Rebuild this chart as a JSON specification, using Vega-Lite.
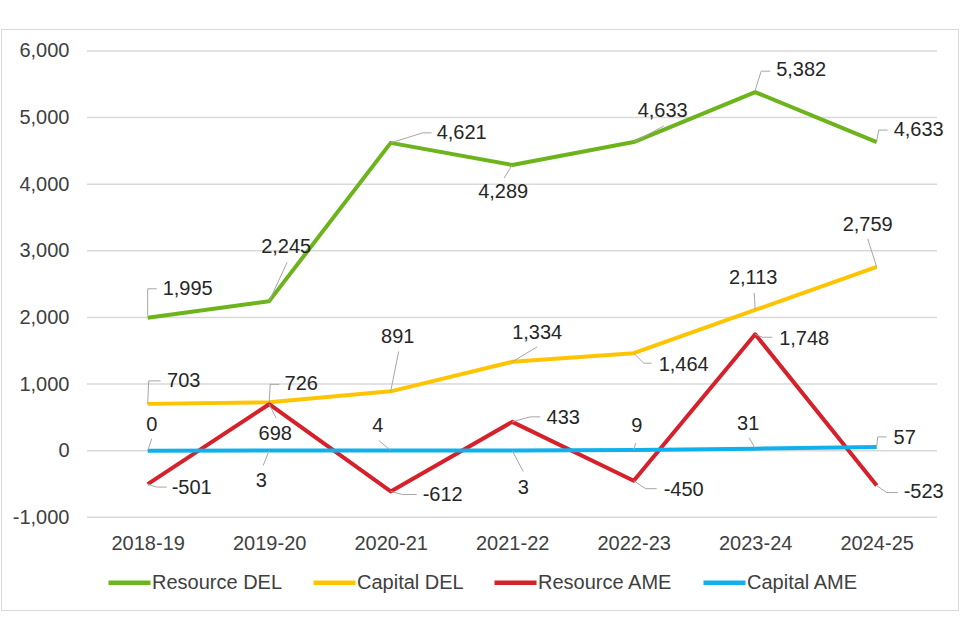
{
  "$schema": "https://vega.github.io/schema/vega-lite/v6.json",
  "width": 957,
  "height": 581,
  "autosize": {"type": "none"},
  "padding": {"left": 1, "top": 29, "right": 2, "bottom": 30},
  "background": "white",
  "config": {
    "locale": {"number": {"decimal": ".", "thousands": ",", "grouping": [3], "currency": ["$", ""], "minus": "-"}},
    "view": {"stroke": "#d9d9d9", "strokeWidth": 1, "fill": "white"},
    "font": "Liberation Sans",
    "text": {"font": "Liberation Sans", "fontSize": 20, "color": "#262626", "align": "center", "baseline": "middle"},
    "rule": {"color": "#a6a6a6", "strokeWidth": 1},
    "axisX": {"offset": -93, "domain": false, "ticks": false, "tickSize": 0, "labelPadding": 16, "labelFontSize": 20, "labelFont": "Liberation Sans", "labelColor": "#404040", "labelAngle": 0, "grid": false, "title": null},
    "axisY": {"offset": -86, "domain": false, "ticks": false, "tickSize": 0, "labelPadding": 18, "labelFontSize": 20, "labelFont": "Liberation Sans", "labelColor": "#404040", "grid": false, "title": null}
  },
  "data": {"values": [
    {"year": "2018-19", "series": "Resource DEL", "value": 1995},
    {"year": "2019-20", "series": "Resource DEL", "value": 2245},
    {"year": "2020-21", "series": "Resource DEL", "value": 4621},
    {"year": "2021-22", "series": "Resource DEL", "value": 4289},
    {"year": "2022-23", "series": "Resource DEL", "value": 4633},
    {"year": "2023-24", "series": "Resource DEL", "value": 5382},
    {"year": "2024-25", "series": "Resource DEL", "value": 4633},
    {"year": "2018-19", "series": "Capital DEL", "value": 703},
    {"year": "2019-20", "series": "Capital DEL", "value": 726},
    {"year": "2020-21", "series": "Capital DEL", "value": 891},
    {"year": "2021-22", "series": "Capital DEL", "value": 1334},
    {"year": "2022-23", "series": "Capital DEL", "value": 1464},
    {"year": "2023-24", "series": "Capital DEL", "value": 2113},
    {"year": "2024-25", "series": "Capital DEL", "value": 2759},
    {"year": "2018-19", "series": "Resource AME", "value": -501},
    {"year": "2019-20", "series": "Resource AME", "value": 698},
    {"year": "2020-21", "series": "Resource AME", "value": -612},
    {"year": "2021-22", "series": "Resource AME", "value": 433},
    {"year": "2022-23", "series": "Resource AME", "value": -450},
    {"year": "2023-24", "series": "Resource AME", "value": 1748},
    {"year": "2024-25", "series": "Resource AME", "value": -523},
    {"year": "2018-19", "series": "Capital AME", "value": 0},
    {"year": "2019-20", "series": "Capital AME", "value": 3},
    {"year": "2020-21", "series": "Capital AME", "value": 4},
    {"year": "2021-22", "series": "Capital AME", "value": 3},
    {"year": "2022-23", "series": "Capital AME", "value": 9},
    {"year": "2023-24", "series": "Capital AME", "value": 31},
    {"year": "2024-25", "series": "Capital AME", "value": 57}
  ]},
  "encoding": {
    "x": {"field": "year", "type": "nominal", "scale": {"type": "point", "padding": 0, "domain": ["2018-19", "2019-20", "2020-21", "2021-22", "2022-23", "2023-24", "2024-25"], "range": [146.7, 875.7]}, "axis": {"title": null}},
    "y": {"field": "value", "type": "quantitative", "scale": {"domain": [-2391, 6330], "nice": false, "zero": false}, "axis": {"title": null, "values": [-1000, 0, 1000, 2000, 3000, 4000, 5000, 6000], "format": ",.0f"}}
  },
  "layer": [
    {
      "data": {"values": [{"value": -1000}, {"value": 0}, {"value": 1000}, {"value": 2000}, {"value": 3000}, {"value": 4000}, {"value": 5000}, {"value": 6000}]},
      "mark": {"type": "rule", "color": "#d9d9d9", "strokeWidth": 1.5, "xOffset": -60.7, "x2Offset": 60.3},
      "encoding": {"x": {"datum": "2018-19"}, "x2": {"datum": "2024-25"}}
    },
    {
      "mark": {"type": "line", "strokeWidth": 4, "strokeJoin": "round"},
      "encoding": {
        "color": {"field": "series", "type": "nominal",
          "scale": {"domain": ["Resource DEL", "Capital DEL", "Resource AME", "Capital AME"], "range": ["#6cb31c", "#ffc400", "#d6202a", "#0fb0ec"]},
          "legend": {"orient": "none", "legendX": 105, "legendY": 530, "direction": "horizontal", "title": null, "symbolType": "stroke", "symbolSize": 1764, "symbolStrokeWidth": 4.5, "labelFontSize": 20, "labelFont": "Liberation Sans", "labelColor": "#404040", "labelOffset": -1, "columnPadding": 21, "labelLimit": 300}}
      }
    },
    {"transform": [{"filter": "datum.series=='Resource DEL'&&datum.year=='2018-19'"}], "layer": [
      {"mark": {"type": "rule", "xOffset": 0, "yOffset": -2, "x2Offset": 0, "y2Offset": -29}, "encoding": {"x2": {"field": "year"}, "y2": {"field": "value"}}},
      {"mark": {"type": "rule", "xOffset": 0, "yOffset": -29, "x2Offset": 9, "y2Offset": -29}, "encoding": {"x2": {"field": "year"}, "y2": {"field": "value"}}},
      {"mark": {"type": "text", "dx": 40, "dy": -29}, "encoding": {"text": {"field": "value", "format": ","}}}
    ]},
    {"transform": [{"filter": "datum.series=='Resource DEL'&&datum.year=='2019-20'"}], "layer": [
      {"mark": {"type": "rule", "xOffset": 0, "yOffset": 0, "x2Offset": 18, "y2Offset": -39}, "encoding": {"x2": {"field": "year"}, "y2": {"field": "value"}}},
      {"mark": {"type": "text", "dx": 17, "dy": -54}, "encoding": {"text": {"field": "value", "format": ","}}}
    ]},
    {"transform": [{"filter": "datum.series=='Resource DEL'&&datum.year=='2020-21'"}], "layer": [
      {"mark": {"type": "rule", "xOffset": 0, "yOffset": 0, "x2Offset": 32, "y2Offset": -10}, "encoding": {"x2": {"field": "year"}, "y2": {"field": "value"}}},
      {"mark": {"type": "rule", "xOffset": 32, "yOffset": -10, "x2Offset": 41, "y2Offset": -10}, "encoding": {"x2": {"field": "year"}, "y2": {"field": "value"}}},
      {"mark": {"type": "text", "dx": 71, "dy": -10}, "encoding": {"text": {"field": "value", "format": ","}}}
    ]},
    {"transform": [{"filter": "datum.series=='Resource DEL'&&datum.year=='2021-22'"}], "layer": [
      {"mark": {"type": "rule", "xOffset": 0, "yOffset": 0, "x2Offset": -8, "y2Offset": 13}, "encoding": {"x2": {"field": "year"}, "y2": {"field": "value"}}},
      {"mark": {"type": "text", "dx": -9, "dy": 27}, "encoding": {"text": {"field": "value", "format": ","}}}
    ]},
    {"transform": [{"filter": "datum.series=='Resource DEL'&&datum.year=='2022-23'"}], "layer": [
      {"mark": {"type": "rule", "xOffset": 0, "yOffset": 0, "x2Offset": 30, "y2Offset": -16}, "encoding": {"x2": {"field": "year"}, "y2": {"field": "value"}}},
      {"mark": {"type": "text", "dx": 29, "dy": -31}, "encoding": {"text": {"field": "value", "format": ","}}}
    ]},
    {"transform": [{"filter": "datum.series=='Resource DEL'&&datum.year=='2023-24'"}], "layer": [
      {"mark": {"type": "rule", "xOffset": 0, "yOffset": -2, "x2Offset": 6, "y2Offset": -21}, "encoding": {"x2": {"field": "year"}, "y2": {"field": "value"}}},
      {"mark": {"type": "rule", "xOffset": 6, "yOffset": -21, "x2Offset": 15, "y2Offset": -21}, "encoding": {"x2": {"field": "year"}, "y2": {"field": "value"}}},
      {"mark": {"type": "text", "dx": 46, "dy": -22}, "encoding": {"text": {"field": "value", "format": ","}}}
    ]},
    {"transform": [{"filter": "datum.series=='Resource DEL'&&datum.year=='2024-25'"}], "layer": [
      {"mark": {"type": "rule", "xOffset": 0, "yOffset": -1, "x2Offset": 2, "y2Offset": -12}, "encoding": {"x2": {"field": "year"}, "y2": {"field": "value"}}},
      {"mark": {"type": "rule", "xOffset": 2, "yOffset": -12, "x2Offset": 11, "y2Offset": -12}, "encoding": {"x2": {"field": "year"}, "y2": {"field": "value"}}},
      {"mark": {"type": "text", "dx": 42, "dy": -12}, "encoding": {"text": {"field": "value", "format": ","}}}
    ]},
    {"transform": [{"filter": "datum.series=='Capital DEL'&&datum.year=='2018-19'"}], "layer": [
      {"mark": {"type": "rule", "xOffset": 0, "yOffset": 0, "x2Offset": 1, "y2Offset": -23}, "encoding": {"x2": {"field": "year"}, "y2": {"field": "value"}}},
      {"mark": {"type": "rule", "xOffset": 1, "yOffset": -23, "x2Offset": 13, "y2Offset": -23}, "encoding": {"x2": {"field": "year"}, "y2": {"field": "value"}}},
      {"mark": {"type": "text", "dx": 36, "dy": -23}, "encoding": {"text": {"field": "value", "format": ","}}}
    ]},
    {"transform": [{"filter": "datum.series=='Capital DEL'&&datum.year=='2019-20'"}], "layer": [
      {"mark": {"type": "rule", "xOffset": 0, "yOffset": 0, "x2Offset": 1, "y2Offset": -18}, "encoding": {"x2": {"field": "year"}, "y2": {"field": "value"}}},
      {"mark": {"type": "rule", "xOffset": 1, "yOffset": -18, "x2Offset": 10, "y2Offset": -18}, "encoding": {"x2": {"field": "year"}, "y2": {"field": "value"}}},
      {"mark": {"type": "text", "dx": 32, "dy": -18}, "encoding": {"text": {"field": "value", "format": ","}}}
    ]},
    {"transform": [{"filter": "datum.series=='Capital DEL'&&datum.year=='2020-21'"}], "layer": [
      {"mark": {"type": "rule", "xOffset": 0, "yOffset": 0, "x2Offset": 8, "y2Offset": -40}, "encoding": {"x2": {"field": "year"}, "y2": {"field": "value"}}},
      {"mark": {"type": "text", "dx": 7, "dy": -54}, "encoding": {"text": {"field": "value", "format": ","}}}
    ]},
    {"transform": [{"filter": "datum.series=='Capital DEL'&&datum.year=='2021-22'"}], "layer": [
      {"mark": {"type": "rule", "xOffset": 0, "yOffset": 0, "x2Offset": 25, "y2Offset": -15}, "encoding": {"x2": {"field": "year"}, "y2": {"field": "value"}}},
      {"mark": {"type": "text", "dx": 25, "dy": -29}, "encoding": {"text": {"field": "value", "format": ","}}}
    ]},
    {"transform": [{"filter": "datum.series=='Capital DEL'&&datum.year=='2022-23'"}], "layer": [
      {"mark": {"type": "rule", "xOffset": 0, "yOffset": 0, "x2Offset": 10, "y2Offset": 10}, "encoding": {"x2": {"field": "year"}, "y2": {"field": "value"}}},
      {"mark": {"type": "rule", "xOffset": 10, "yOffset": 10, "x2Offset": 18, "y2Offset": 10}, "encoding": {"x2": {"field": "year"}, "y2": {"field": "value"}}},
      {"mark": {"type": "text", "dx": 50, "dy": 12}, "encoding": {"text": {"field": "value", "format": ","}}}
    ]},
    {"transform": [{"filter": "datum.series=='Capital DEL'&&datum.year=='2023-24'"}], "layer": [
      {"mark": {"type": "rule", "xOffset": 0, "yOffset": 0, "x2Offset": -1, "y2Offset": -17}, "encoding": {"x2": {"field": "year"}, "y2": {"field": "value"}}},
      {"mark": {"type": "text", "dx": -2, "dy": -32}, "encoding": {"text": {"field": "value", "format": ","}}}
    ]},
    {"transform": [{"filter": "datum.series=='Capital DEL'&&datum.year=='2024-25'"}], "layer": [
      {"mark": {"type": "rule", "xOffset": 0, "yOffset": 0, "x2Offset": -9, "y2Offset": -28}, "encoding": {"x2": {"field": "year"}, "y2": {"field": "value"}}},
      {"mark": {"type": "text", "dx": -9, "dy": -42}, "encoding": {"text": {"field": "value", "format": ","}}}
    ]},
    {"transform": [{"filter": "datum.series=='Resource AME'&&datum.year=='2018-19'"}], "layer": [
      {"mark": {"type": "rule", "xOffset": 0, "yOffset": 0, "x2Offset": 9, "y2Offset": 3}, "encoding": {"x2": {"field": "year"}, "y2": {"field": "value"}}},
      {"mark": {"type": "rule", "xOffset": 9, "yOffset": 3, "x2Offset": 19, "y2Offset": 3}, "encoding": {"x2": {"field": "year"}, "y2": {"field": "value"}}},
      {"mark": {"type": "text", "dx": 44, "dy": 4}, "encoding": {"text": {"field": "value", "format": ","}}}
    ]},
    {"transform": [{"filter": "datum.series=='Resource AME'&&datum.year=='2019-20'"}], "layer": [
      {"mark": {"type": "rule", "xOffset": 0, "yOffset": 0, "x2Offset": 7, "y2Offset": 14}, "encoding": {"x2": {"field": "year"}, "y2": {"field": "value"}}},
      {"mark": {"type": "text", "dx": 6, "dy": 30}, "encoding": {"text": {"field": "value", "format": ","}}}
    ]},
    {"transform": [{"filter": "datum.series=='Resource AME'&&datum.year=='2020-21'"}], "layer": [
      {"mark": {"type": "rule", "xOffset": 0, "yOffset": 0, "x2Offset": 12, "y2Offset": 3}, "encoding": {"x2": {"field": "year"}, "y2": {"field": "value"}}},
      {"mark": {"type": "rule", "xOffset": 12, "yOffset": 3, "x2Offset": 26, "y2Offset": 3}, "encoding": {"x2": {"field": "year"}, "y2": {"field": "value"}}},
      {"mark": {"type": "text", "dx": 52, "dy": 4}, "encoding": {"text": {"field": "value", "format": ","}}}
    ]},
    {"transform": [{"filter": "datum.series=='Resource AME'&&datum.year=='2021-22'"}], "layer": [
      {"mark": {"type": "rule", "xOffset": 0, "yOffset": 0, "x2Offset": 18, "y2Offset": -5}, "encoding": {"x2": {"field": "year"}, "y2": {"field": "value"}}},
      {"mark": {"type": "rule", "xOffset": 18, "yOffset": -5, "x2Offset": 28, "y2Offset": -5}, "encoding": {"x2": {"field": "year"}, "y2": {"field": "value"}}},
      {"mark": {"type": "text", "dx": 51, "dy": -4}, "encoding": {"text": {"field": "value", "format": ","}}}
    ]},
    {"transform": [{"filter": "datum.series=='Resource AME'&&datum.year=='2022-23'"}], "layer": [
      {"mark": {"type": "rule", "xOffset": 0, "yOffset": 0, "x2Offset": 12, "y2Offset": 8}, "encoding": {"x2": {"field": "year"}, "y2": {"field": "value"}}},
      {"mark": {"type": "rule", "xOffset": 12, "yOffset": 8, "x2Offset": 23, "y2Offset": 8}, "encoding": {"x2": {"field": "year"}, "y2": {"field": "value"}}},
      {"mark": {"type": "text", "dx": 50, "dy": 9}, "encoding": {"text": {"field": "value", "format": ","}}}
    ]},
    {"transform": [{"filter": "datum.series=='Resource AME'&&datum.year=='2023-24'"}], "layer": [
      {"mark": {"type": "rule", "xOffset": 0, "yOffset": 0, "x2Offset": 7, "y2Offset": 3}, "encoding": {"x2": {"field": "year"}, "y2": {"field": "value"}}},
      {"mark": {"type": "rule", "xOffset": 7, "yOffset": 3, "x2Offset": 17, "y2Offset": 3}, "encoding": {"x2": {"field": "year"}, "y2": {"field": "value"}}},
      {"mark": {"type": "text", "dx": 49, "dy": 5}, "encoding": {"text": {"field": "value", "format": ","}}}
    ]},
    {"transform": [{"filter": "datum.series=='Resource AME'&&datum.year=='2024-25'"}], "layer": [
      {"mark": {"type": "rule", "xOffset": 0, "yOffset": 0, "x2Offset": 10, "y2Offset": 7}, "encoding": {"x2": {"field": "year"}, "y2": {"field": "value"}}},
      {"mark": {"type": "rule", "xOffset": 10, "yOffset": 7, "x2Offset": 21, "y2Offset": 7}, "encoding": {"x2": {"field": "year"}, "y2": {"field": "value"}}},
      {"mark": {"type": "text", "dx": 47, "dy": 6}, "encoding": {"text": {"field": "value", "format": ","}}}
    ]},
    {"transform": [{"filter": "datum.series=='Capital AME'&&datum.year=='2018-19'"}], "layer": [
      {"mark": {"type": "rule", "xOffset": 0, "yOffset": 0, "x2Offset": 4, "y2Offset": -12}, "encoding": {"x2": {"field": "year"}, "y2": {"field": "value"}}},
      {"mark": {"type": "text", "dx": 4, "dy": -26}, "encoding": {"text": {"field": "value", "format": ","}}}
    ]},
    {"transform": [{"filter": "datum.series=='Capital AME'&&datum.year=='2019-20'"}], "layer": [
      {"mark": {"type": "rule", "xOffset": 0, "yOffset": 0, "x2Offset": -6, "y2Offset": 15}, "encoding": {"x2": {"field": "year"}, "y2": {"field": "value"}}},
      {"mark": {"type": "text", "dx": -8, "dy": 30}, "encoding": {"text": {"field": "value", "format": ","}}}
    ]},
    {"transform": [{"filter": "datum.series=='Capital AME'&&datum.year=='2020-21'"}], "layer": [
      {"mark": {"type": "rule", "xOffset": 0, "yOffset": 0, "x2Offset": -12, "y2Offset": -10}, "encoding": {"x2": {"field": "year"}, "y2": {"field": "value"}}},
      {"mark": {"type": "text", "dx": -13, "dy": -24}, "encoding": {"text": {"field": "value", "format": ","}}}
    ]},
    {"transform": [{"filter": "datum.series=='Capital AME'&&datum.year=='2021-22'"}], "layer": [
      {"mark": {"type": "rule", "xOffset": 0, "yOffset": 0, "x2Offset": 11, "y2Offset": 21}, "encoding": {"x2": {"field": "year"}, "y2": {"field": "value"}}},
      {"mark": {"type": "text", "dx": 11, "dy": 37}, "encoding": {"text": {"field": "value", "format": ","}}}
    ]},
    {"transform": [{"filter": "datum.series=='Capital AME'&&datum.year=='2022-23'"}], "layer": [
      {"mark": {"type": "rule", "xOffset": 0, "yOffset": 0, "x2Offset": 2, "y2Offset": -7}, "encoding": {"x2": {"field": "year"}, "y2": {"field": "value"}}},
      {"mark": {"type": "text", "dx": 3, "dy": -24}, "encoding": {"text": {"field": "value", "format": ","}}}
    ]},
    {"transform": [{"filter": "datum.series=='Capital AME'&&datum.year=='2023-24'"}], "layer": [
      {"mark": {"type": "rule", "xOffset": 0, "yOffset": 0, "x2Offset": -6, "y2Offset": -11}, "encoding": {"x2": {"field": "year"}, "y2": {"field": "value"}}},
      {"mark": {"type": "text", "dx": -7, "dy": -25}, "encoding": {"text": {"field": "value", "format": ","}}}
    ]},
    {"transform": [{"filter": "datum.series=='Capital AME'&&datum.year=='2024-25'"}], "layer": [
      {"mark": {"type": "rule", "xOffset": 0, "yOffset": 0, "x2Offset": 1, "y2Offset": -10}, "encoding": {"x2": {"field": "year"}, "y2": {"field": "value"}}},
      {"mark": {"type": "rule", "xOffset": 1, "yOffset": -10, "x2Offset": 10, "y2Offset": -10}, "encoding": {"x2": {"field": "year"}, "y2": {"field": "value"}}},
      {"mark": {"type": "text", "dx": 28, "dy": -9}, "encoding": {"text": {"field": "value", "format": ","}}}
    ]}
  ]
}
